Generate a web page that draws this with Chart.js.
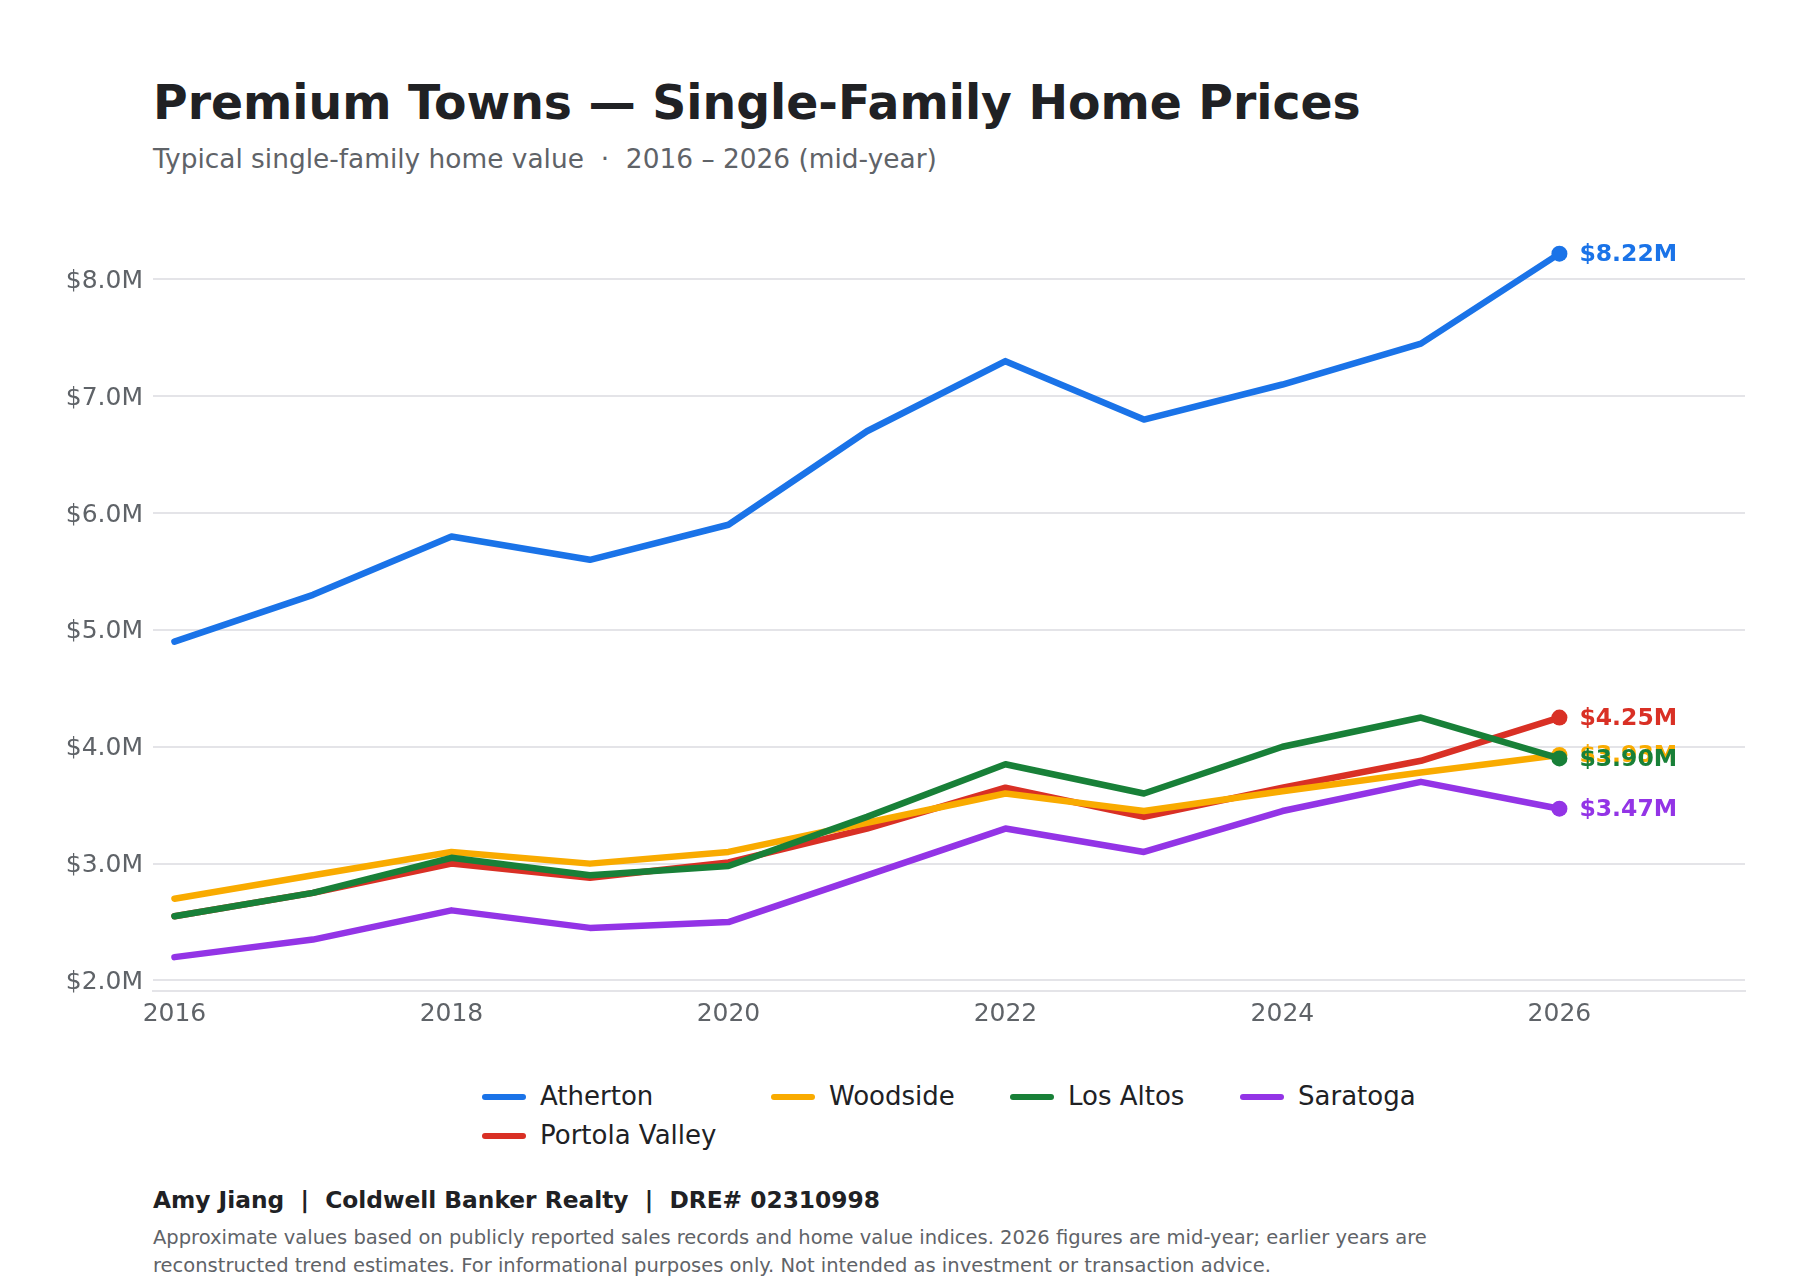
<!DOCTYPE html>
<html>
<head>
<meta charset="utf-8">
<title>Premium Towns — Single-Family Home Prices</title>
<script src="https://cdn.jsdelivr.net/npm/chart.js@4.4.1/dist/chart.umd.min.js"></script>
<style>
  body { margin: 0; background: #fff; font-family: "DejaVu Sans", sans-serif; }
  #page { position: relative; width: 1800px; height: 1280px; overflow: hidden; }
  .title { position: absolute; left: 153px; top: 79px; font-size: 47.3px; font-weight: bold; color: #202124; line-height: 1; white-space: pre; }
  .subtitle { position: absolute; left: 153px; top: 146px; font-size: 26.4px; color: #5f6368; line-height: 1; white-space: pre; }
  #chartWrap { position: absolute; left: 0; top: 200px; width: 1800px; height: 840px; }
  #legend { position: absolute; left: 482px; top: 1077px; display: grid; grid-template-columns: 289px 239px 230px auto; grid-template-rows: 39px 39px; }
  .legend-item { display: flex; align-items: center; font-size: 26px; color: #202124; line-height: 39px; white-space: nowrap; }
  .legend-item .swatch { display: inline-block; width: 44px; height: 6px; border-radius: 3px; margin-right: 14px; }
  .credit { position: absolute; left: 153px; top: 1188px; font-size: 23.3px; font-weight: bold; color: #202124; line-height: 1; white-space: pre; }
  .note { position: absolute; left: 153px; top: 1223.5px; font-size: 19.5px; color: #5f6368; line-height: 28.7px; white-space: nowrap; }
</style>
</head>
<body>
<div id="page">
  <div class="title">Premium Towns — Single-Family Home Prices</div>
  <div class="subtitle">Typical single-family home value  ·  2016 – 2026 (mid-year)</div>
  <div id="chartWrap"><canvas id="homePrices" width="1800" height="840"></canvas></div>
  <div id="legend"></div>
  <div class="credit">Amy Jiang  |  Coldwell Banker Realty  |  DRE# 02310998</div>
  <div class="note">Approximate values based on publicly reported sales records and home value indices. 2026 figures are mid-year; earlier years are<br>reconstructed trend estimates. For informational purposes only. Not intended as investment or transaction advice.</div>
</div>
<script>
// years on the x axis
const years = [2016, 2017, 2018, 2019, 2020, 2021, 2022, 2023, 2024, 2025, 2026]

// typical home value, $ millions
const atherton = [4.90, 5.30, 5.80, 5.60, 5.90, 6.70, 7.30, 6.80, 7.10, 7.45, 8.22]
const portolaValley = [2.55, 2.75, 3.00, 2.88, 3.01, 3.30, 3.65, 3.40, 3.65, 3.88, 4.25]
const woodside = [2.70, 2.90, 3.10, 3.00, 3.10, 3.35, 3.60, 3.45, 3.62, 3.78, 3.93]
const losAltos = [2.55, 2.75, 3.05, 2.90, 2.98, 3.40, 3.85, 3.60, 4.00, 4.25, 3.90]
const saratoga = [2.20, 2.35, 2.60, 2.45, 2.50, 2.90, 3.30, 3.10, 3.45, 3.70, 3.47]

const townNames = ['Atherton', 'Portola Valley', 'Woodside', 'Los Altos', 'Saratoga']
const townColors = ['#1a73e8', '#d93025', '#f9ab00', '#188038', '#9334e6']

// tick labels
const xTickYears = [2016, 2018, 2020, 2022, 2024, 2026]
const yTickValues = [2, 3, 4, 5, 6, 7, 8]

const seriesValues = [atherton, portolaValley, woodside, losAltos, saratoga]

const datasets = seriesValues.map((values, i) => ({
  label: townNames[i],
  data: values.map((v, j) => ({ x: years[j], y: v })),
  borderColor: townColors[i],
  backgroundColor: townColors[i],
  borderWidth: 6.5,
  borderCapStyle: 'round',
  borderJoinStyle: 'round',
  tension: 0,
  // later towns sit on top, like the original
  order: seriesValues.length - i,
  pointRadius: ctx => ctx.dataIndex === values.length - 1 ? 8 : 0,
  pointHoverRadius: ctx => ctx.dataIndex === values.length - 1 ? 8 : 0,
  pointBorderWidth: 0,
  pointBackgroundColor: townColors[i],
}))

// value labels next to the last point of each line
const endLabels = {
  id: 'endLabels',
  afterDatasetsDraw(chart) {
    const ctx = chart.ctx
    ctx.save()
    ctx.font = 'bold 23.5px "DejaVu Sans"'
    ctx.textAlign = 'left'
    ctx.textBaseline = 'middle'
    chart.data.datasets.forEach((ds, i) => {
      const meta = chart.getDatasetMeta(i)
      const pt = meta.data[meta.data.length - 1]
      const last = ds.data[ds.data.length - 1]
      ctx.fillStyle = ds.borderColor
      ctx.fillText(`$${last.y.toFixed(2)}M`, pt.x + 20, pt.y + 1)
    })
    ctx.restore()
  }
}

const config = {
  type: 'line',
  data: { datasets: datasets },
  plugins: [endLabels],
  options: {
    responsive: false,
    animation: false,
    devicePixelRatio: 1,
    layout: { padding: { left: 0, right: 55, top: 20.6, bottom: 0 } },
    plugins: {
      legend: { display: false },
      tooltip: { enabled: false },
    },
    scales: {
      x: {
        type: 'linear',
        min: 2015.845,
        max: 2027.34,
        afterBuildTicks: scale => { scale.ticks = xTickYears.map(v => ({ value: v })) },
        afterFit: scale => { scale.height = 49 },
        grid: { display: false, drawTicks: false },
        border: { display: true, color: '#e4e4e8', width: 2 },
        ticks: {
          padding: 8,
          color: '#5f6368',
          font: { family: 'DejaVu Sans', size: 25 },
          callback: value => String(value),
          maxRotation: 0,
        },
      },
      y: {
        min: 1.910,
        max: 8.465,
        afterBuildTicks: scale => { scale.ticks = yTickValues.map(v => ({ value: v })) },
        afterFit: scale => { scale.width = 153 },
        grid: { color: '#e4e4e8', lineWidth: 2, drawTicks: false },
        border: { display: false },
        ticks: {
          padding: 10,
          labelOffset: 2,
          color: '#5f6368',
          font: { family: 'DejaVu Sans', size: 25 },
          callback: value => `$${value.toFixed(1)}M`,
        },
      },
    },
  },
}

const homePricesChart = new Chart(document.getElementById('homePrices'), config)

// legend laid out in columns: the first column holds two towns
const legendBox = document.getElementById('legend')
homePricesChart.data.datasets.forEach((ds, i) => {
  const item = document.createElement('div')
  item.className = 'legend-item'
  item.style.gridColumn = i < 2 ? 1 : i
  item.style.gridRow = i === 1 ? 2 : 1
  const swatch = document.createElement('span')
  swatch.className = 'swatch'
  swatch.style.background = ds.borderColor
  item.appendChild(swatch)
  item.appendChild(document.createTextNode(ds.label))
  legendBox.appendChild(item)
})
</script>
</body>
</html>
